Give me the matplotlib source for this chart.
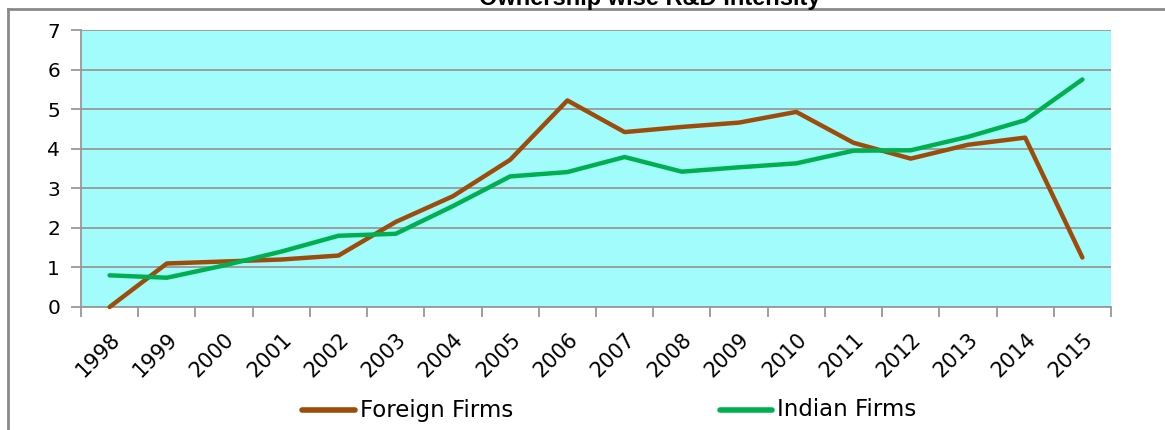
import matplotlib
matplotlib.use("Agg")
import matplotlib.pyplot as plt
from matplotlib.lines import Line2D
import numpy as np

years = ["1998", "1999", "2000", "2001", "2002", "2003", "2004", "2005", "2006",
         "2007", "2008", "2009", "2010", "2011", "2012", "2013", "2014", "2015"]
foreign = [0.0, 1.1, 1.15, 1.2, 1.3, 2.15, 2.8, 3.72, 5.22,
           4.42, 4.55, 4.66, 4.93, 4.15, 3.75, 4.1, 4.28, 1.25]
indian = [0.8, 0.74, 1.05, 1.4, 1.8, 1.85, 2.55, 3.3, 3.41,
          3.79, 3.42, 3.53, 3.63, 3.95, 3.96, 4.3, 4.72, 5.75]
yticks = [0, 1, 2, 3, 4, 5, 6, 7]
series_names = ["Foreign Firms", "Indian Firms"]

BROWN = "#9E4C0C"
GREEN = "#00B050"
GRID = "#989898"

plt.rcParams["font.family"] = ["DejaVu Sans"]

W, H = 1165, 430
fig = plt.figure(figsize=(W / 100, H / 100), dpi=100)

# plot area in pixels: x 81..1111, y 30..307
ax = fig.add_axes([81 / W, 1 - 307 / H, (1111 - 81) / W, (307 - 30) / H])
ax.set_facecolor("#A3FCFC")

x = np.arange(len(years))
ax.plot(x, foreign, color=BROWN, lw=3.2, solid_capstyle="round", zorder=3, clip_on=False)
ax.plot(x, indian, color=GREEN, lw=3.2, solid_capstyle="round", zorder=3, clip_on=False)

ax.set_xlim(-0.5, len(years) - 0.5)
ax.set_ylim(0, 7)
ax.set_yticks(yticks)
ax.set_yticklabels([str(v) for v in yticks], fontsize=14.5)
ax.yaxis.grid(True, color=GRID, lw=1.3)
ax.set_axisbelow(True)

ax.set_xticks(np.arange(len(years) + 1) - 0.5)
ax.set_xticklabels([])
ax.set_xticks(x, minor=True)
ax.set_xticklabels(years, minor=True, rotation=45, ha="right",
                   rotation_mode="anchor", fontsize=15)
ax.tick_params(axis="x", which="major", length=7, color=GRID, width=1.3)
ax.tick_params(axis="x", which="minor", length=0, pad=16)
ax.tick_params(axis="y", length=7, color=GRID, width=1.3, pad=8)

for s in ["top", "right"]:
    ax.spines[s].set_visible(False)
for s in ["left", "bottom"]:
    ax.spines[s].set_color(GRID)
    ax.spines[s].set_linewidth(1.3)

# outer chart border (top and left visible)
fig.add_artist(Line2D([8 / W, 1], [1 - 9 / H, 1 - 9 / H], color="#8a8a8a", lw=2))
fig.add_artist(Line2D([8 / W, 8 / W], [0, 1 - 9 / H], color="#8a8a8a", lw=2))

# title sits mostly above the image edge, as in the original
fig.text(650 / W, 1 - 5 / H, "Ownership wise R&D Intensity", ha="center", va="baseline",
         fontsize=17, fontweight="bold", family=["Liberation Sans", "DejaVu Sans"])

# legend drawn by hand to match the spacing of the original
legend_y = 1 - 410 / H
for (x0, x1), col, name in zip([(302, 355), (720, 772)], [BROWN, GREEN], series_names):
    fig.add_artist(Line2D([x0 / W, x1 / W], [legend_y, legend_y], color=col, lw=4,
                          solid_capstyle="round"))
    fig.text((x1 + 5) / W, legend_y, name, ha="left", va="center", fontsize=16.5)

fig.savefig("out.png", dpi=100)
